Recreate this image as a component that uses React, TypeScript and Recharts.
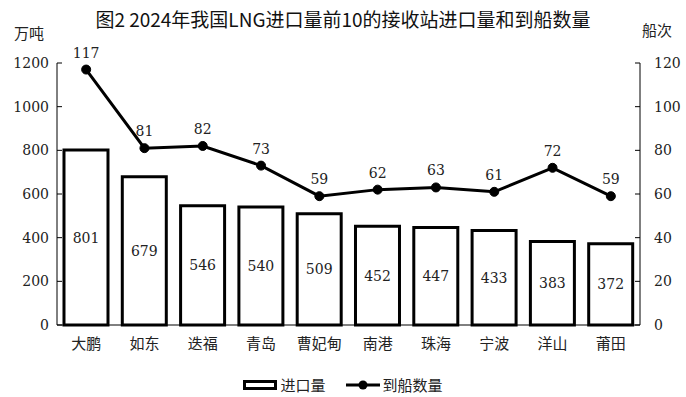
import React from "react";
import { Bar, ComposedChart, LabelList, Line, XAxis, YAxis } from "recharts";

const stations = ["大鹏", "如东", "迭福", "青岛", "曹妃甸", "南港", "珠海", "宁波", "洋山", "莆田"];
const imports = [801, 679, 546, 540, 509, 452, 447, 433, 383, 372];
const ships = [117, 81, 82, 73, 59, 62, 63, 61, 72, 59];
const leftTicks = [0, 200, 400, 600, 800, 1000, 1200];
const rightTicks = [0, 20, 40, 60, 80, 100, 120];

const data = stations.map((name, i) => ({ name, imports: imports[i], ships: ships[i] }));

const NUM = "'DejaVu Serif', 'Liberation Serif', serif";
const CJK = "'Noto Sans CJK SC', sans-serif";

function LeftTick(props: any) {
  const { x, y, payload } = props;
  return (
    <g>
      <line x1={x + 8} x2={x + 13} y1={y} y2={y} stroke="#000" strokeWidth={1} />
      <text x={x} y={y} dy={5} textAnchor="end" fontFamily={NUM} fontSize={14} fill="#222">
        {payload.value}
      </text>
    </g>
  );
}

function RightTick(props: any) {
  const { x, y, payload } = props;
  return (
    <g>
      <line x1={x - 13} x2={x - 8} y1={y} y2={y} stroke="#000" strokeWidth={1} />
      <text x={x + 6} y={y} dy={5} textAnchor="start" fontFamily={NUM} fontSize={14} fill="#222">
        {payload.value}
      </text>
    </g>
  );
}

function CatTick(props: any) {
  const { x, y, payload } = props;
  return (
    <text x={x} y={y} dy={16} textAnchor="middle" fontFamily={CJK} fontSize={15} fill="#222">
      {payload.value}
    </text>
  );
}

export default function App() {
  return (
    <div style={{ position: "relative", width: 686, height: 397, background: "#fff" }}>
      <style>{"body{margin:0}"}</style>
      <div
        style={{
          position: "absolute", left: 0, width: 686, top: 5, textAlign: "center",
          fontFamily: CJK, fontSize: 19, color: "#111", whiteSpace: "nowrap",
        }}
      >
        图2 2024年我国LNG进口量前10的接收站进口量和到船数量
      </div>
      <div style={{ position: "absolute", left: 14, top: 22, fontFamily: CJK, fontSize: 15, color: "#222" }}>万吨</div>
      <div style={{ position: "absolute", left: 642, top: 19, fontFamily: CJK, fontSize: 15, color: "#222" }}>船次</div>
      <ComposedChart
        width={686}
        height={397}
        data={data}
        margin={{ top: 63, right: 6, bottom: 42, left: 7 }}
        barCategoryGap="12%"
      >
        <XAxis
          dataKey="name"
          tickLine={false}
          axisLine={{ stroke: "#000", strokeWidth: 1 }}
          tick={<CatTick />}
          height={30}
          interval={0}
        />
        <YAxis
          yAxisId="left"
          domain={[0, 1200]}
          ticks={leftTicks}
          width={50}
          tickLine={false}
          tickSize={0}
          tickMargin={8}
          axisLine={{ stroke: "#000", strokeWidth: 1 }}
          tick={<LeftTick />}
          interval={0}
        />
        <YAxis
          yAxisId="right"
          orientation="right"
          domain={[0, 120]}
          ticks={rightTicks}
          width={40}
          tickLine={false}
          tickSize={0}
          tickMargin={8}
          axisLine={{ stroke: "#000", strokeWidth: 1 }}
          tick={<RightTick />}
          interval={0}
        />
        <Bar yAxisId="left" dataKey="imports" fill="#fff" stroke="#000" strokeWidth={3} isAnimationActive={false}>
          <LabelList dataKey="imports" position="center" fontFamily={NUM} fontSize={14} fill="#222" />
        </Bar>
        <Line
          yAxisId="right"
          dataKey="ships"
          stroke="#000"
          strokeWidth={3}
          dot={{ r: 4.5, fill: "#000", stroke: "#000", strokeWidth: 1 }}
          isAnimationActive={false}
        >
          <LabelList dataKey="ships" position="top" offset={12} fontFamily={NUM} fontSize={14} fill="#222" />
        </Line>
      </ComposedChart>
      <div
        style={{
          position: "absolute", top: 374, left: 0, width: 686, display: "flex", justifyContent: "center",
          alignItems: "center", fontFamily: CJK, fontSize: 15, color: "#222",
        }}
      >
        <svg width={34} height={12} style={{ marginRight: 3 }}>
          <rect x={1.5} y={2.5} width={31} height={7} fill="#fff" stroke="#000" strokeWidth={3} />
        </svg>
        <span style={{ marginRight: 20 }}>进口量</span>
        <svg width={34} height={12} style={{ marginRight: 3 }}>
          <line x1={0} x2={34} y1={6} y2={6} stroke="#000" strokeWidth={3} />
          <circle cx={17} cy={6} r={4.5} fill="#000" />
        </svg>
        <span>到船数量</span>
      </div>
    </div>
  );
}
